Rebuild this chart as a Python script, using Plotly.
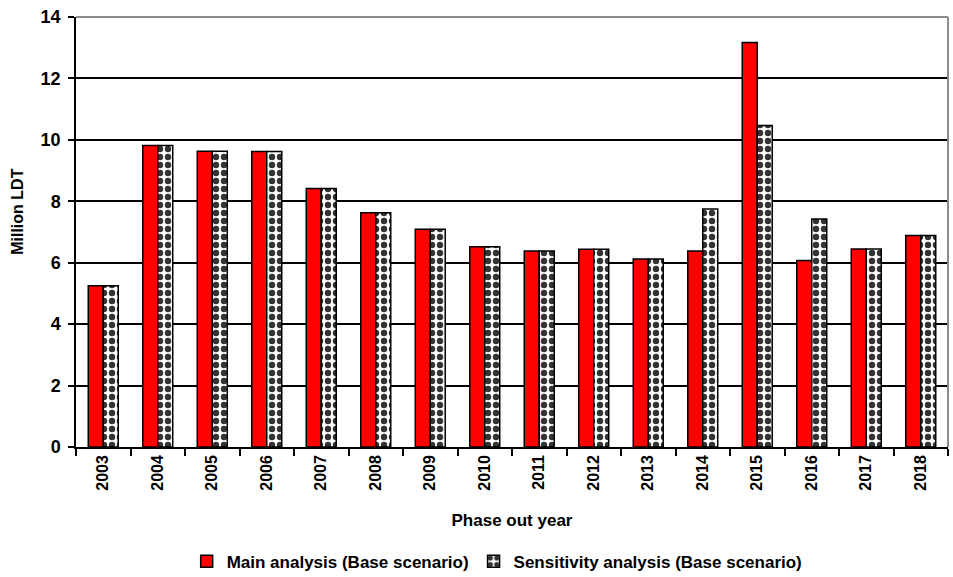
import plotly.graph_objects as go

# Phase-out volumes per year (million LDT)
years = ["2003", "2004", "2005", "2006", "2007", "2008", "2009", "2010",
         "2011", "2012", "2013", "2014", "2015", "2016", "2017", "2018"]
main_analysis = [5.25, 9.82, 9.63, 9.62, 8.42, 7.63, 7.09, 6.52,
                 6.38, 6.44, 6.12, 6.38, 13.17, 6.07, 6.45, 6.89]
sensitivity_analysis = [5.25, 9.82, 9.63, 9.62, 8.42, 7.63, 7.09, 6.52,
                        6.38, 6.44, 6.12, 7.75, 10.47, 7.42, 6.45, 6.89]
y_ticks = [0, 2, 4, 6, 8, 10, 12, 14]

FONT = "Liberation Sans, Arial, sans-serif"

fig = go.Figure()
fig.add_trace(go.Bar(
    x=years, y=main_analysis, name="Main analysis (Base scenario)",
    marker=dict(color="#ff0000", line=dict(color="#000000", width=1.5)),
))
fig.add_trace(go.Bar(
    x=years, y=sensitivity_analysis, name="Sensitivity analysis (Base scenario)",
    marker=dict(
        color="#ffffff",
        line=dict(color="#000000", width=1.5),
        pattern=dict(shape=".", fgcolor="#333333", bgcolor="#ffffff",
                     size=8, solidity=0.5, fillmode="replace"),
    ),
))

fig.update_layout(
    width=953, height=577,
    margin=dict(l=76, r=5, t=17, b=130, autoexpand=False),
    paper_bgcolor="#ffffff", plot_bgcolor="#ffffff",
    barmode="group", bargap=0.45, bargroupgap=0,
    font=dict(family=FONT, color="#000000", weight="bold"),
    showlegend=True,
    legend=dict(
        orientation="h", x=0.483, xanchor="center", y=-0.267, yanchor="middle",
        font=dict(size=17, family=FONT, weight="bold"),
        itemwidth=30, bgcolor="rgba(0,0,0,0)", traceorder="normal",
    ),
    xaxis=dict(
        type="category", tickangle=-90, tickson="boundaries",
        ticks="outside", ticklen=7, tickwidth=1.5, tickcolor="#000000",
        showline=True, linecolor="#000000", linewidth=1.5,
        showgrid=False, automargin=False,
        tickfont=dict(size=16, family=FONT, weight="bold"),
        title=dict(text="Phase out year", standoff=24,
                   font=dict(size=17, family=FONT, weight="bold")),
    ),
    yaxis=dict(
        range=[0, 14], tickvals=y_ticks, automargin=False,
        ticks="outside", ticklen=6, tickwidth=1.5, tickcolor="#000000",
        showline=True, linecolor="#000000", linewidth=1.5,
        showgrid=True, gridcolor="#000000", gridwidth=1.5, zeroline=False,
        tickfont=dict(size=18, family=FONT, weight="bold"),
        ticklabelstandoff=4,
    ),
    annotations=[dict(
        text="Million LDT", xref="paper", yref="paper",
        x=-0.0665, y=0.547, xanchor="center", yanchor="middle",
        textangle=-90, showarrow=False,
        font=dict(size=16, family=FONT, weight="bold"),
    )],
    shapes=[
        dict(type="line", xref="paper", yref="paper", x0=0, x1=1, y0=1, y1=1,
             line=dict(color="#8c8c8c", width=2), layer="above"),
        dict(type="line", xref="paper", yref="paper", x0=1, x1=1, y0=0, y1=1,
             line=dict(color="#8c8c8c", width=2), layer="above"),
    ],
)

fig.write_html("out.html")
